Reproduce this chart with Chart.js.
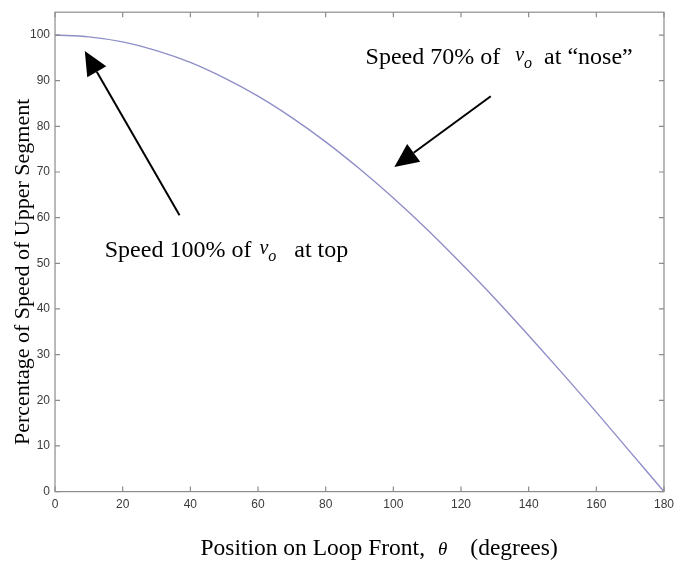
<!DOCTYPE html>
<html lang="en">
<head>
    <meta charset="UTF-8">
    <title>Speed around loop</title>
    <style>
        body { margin: 0; background: #fff; }
        .chartBox { width: 680px; height: 564px; }
    </style>
</head>
<body>
<div class="chartBox">
    <canvas id="myChart"></canvas>
</div>
<script src="https://cdn.jsdelivr.net/npm/chart.js"></script>
<script>
    // data
    const theta = [0, 10, 20, 30, 40, 50, 60, 70, 80, 90, 100, 110, 120, 130, 140, 150, 160, 170, 180];
    const speedPct = [100, 99.6, 98.5, 96.6, 94, 90.6, 86.6, 81.9, 76.6, 70.7, 64.3, 57.4, 50, 42.3, 34.2, 25.9, 17.4, 8.7, 0];

    const xTitle = 'Position on Loop Front,';
    const yTitle = 'Percentage of Speed of Upper Segment';

    // annotations in data units: text anchor, arrow tail -> tip
    const notes = [
        { before: 'Speed 70% of', gap1: 15, after: 'at \u201cnose\u201d', gap2: 12, tx: 91.8, ty: 93.7, from: [128.8, 86.6], to: [100.3, 71.1] },
        { before: 'Speed 100% of', gap1: 8, after: 'at top', gap2: 18, tx: 14.7, ty: 51.4, from: [36.8, 60.5], to: [8.8, 96.5] }
    ];

    const serif = '"Liberation Serif", "Times New Roman", serif';

    function arrow(ctx, x1, y1, x2, y2) {
        const a = Math.atan2(y2 - y1, x2 - x1);
        const len = 24, half = 11;
        const bx = x2 - len * Math.cos(a), by = y2 - len * Math.sin(a);
        ctx.beginPath();
        ctx.moveTo(x1, y1);
        ctx.lineTo(bx, by);
        ctx.lineWidth = 2;
        ctx.strokeStyle = '#000';
        ctx.stroke();
        ctx.beginPath();
        ctx.moveTo(x2, y2);
        ctx.lineTo(bx + half * Math.sin(a), by - half * Math.cos(a));
        ctx.lineTo(bx - half * Math.sin(a), by + half * Math.cos(a));
        ctx.closePath();
        ctx.fillStyle = '#000';
        ctx.fill();
    }

    // draw "before v_o after" with italic v and subscript o
    function noteText(ctx, x, y, n) {
        ctx.textBaseline = 'alphabetic';
        ctx.textAlign = 'left';
        ctx.fillStyle = '#000';
        ctx.font = '24px ' + serif;
        ctx.fillText(n.before, x, y);
        x += ctx.measureText(n.before).width + n.gap1;
        ctx.font = 'italic 20px ' + serif;
        ctx.fillText('v', x, y - 3);
        x += ctx.measureText('v').width;
        ctx.font = 'italic 16px ' + serif;
        ctx.fillText('o', x, y + 4);
        x += ctx.measureText('o').width + n.gap2;
        ctx.font = '24px ' + serif;
        ctx.fillText(n.after, x, y);
    }

    const decor = {
        id: 'decor',
        afterDraw(chart) {
            const ctx = chart.ctx;
            const xs = chart.scales.x, ys = chart.scales.y;
            const a = chart.chartArea;
            ctx.save();
            // box
            ctx.strokeStyle = '#8c8c8c';
            ctx.lineWidth = 1.2;
            ctx.strokeRect(a.left, a.top, a.right - a.left, a.bottom - a.top);
            // inward ticks on all sides
            ctx.beginPath();
            xs.ticks.forEach(t => {
                const p = xs.getPixelForValue(t.value);
                ctx.moveTo(p, a.bottom); ctx.lineTo(p, a.bottom - 5);
                ctx.moveTo(p, a.top); ctx.lineTo(p, a.top + 5);
            });
            ys.ticks.forEach(t => {
                const p = ys.getPixelForValue(t.value);
                ctx.moveTo(a.left, p); ctx.lineTo(a.left + 5, p);
                ctx.moveTo(a.right, p); ctx.lineTo(a.right - 5, p);
            });
            ctx.stroke();

            // axis titles
            ctx.fillStyle = '#000';
            ctx.textBaseline = 'alphabetic';
            ctx.font = '23.5px ' + serif;
            ctx.textAlign = 'right';
            ctx.fillText(xTitle, 425, 555);
            ctx.textAlign = 'left';
            ctx.font = 'italic 19px ' + serif;
            ctx.fillText('\u03b8', 438, 555);
            const tw = ctx.measureText('\u03b8').width;
            ctx.font = '23.5px ' + serif;
            ctx.fillText('(degrees)', 438 + tw + 23, 555);

            ctx.save();
            ctx.translate(29, (a.top + a.bottom) / 2 + 20);
            ctx.rotate(-Math.PI / 2);
            ctx.textAlign = 'center';
            ctx.font = '22px ' + serif;
            ctx.fillText(yTitle, 0, 0);
            ctx.restore();

            // annotations
            notes.forEach(n => {
                noteText(ctx, xs.getPixelForValue(n.tx), ys.getPixelForValue(n.ty), n);
                arrow(ctx, xs.getPixelForValue(n.from[0]), ys.getPixelForValue(n.from[1]),
                    xs.getPixelForValue(n.to[0]), ys.getPixelForValue(n.to[1]));
            });
            ctx.restore();
        }
    };

    const data = {
        datasets: [{
            data: theta.map((t, i) => ({ x: t, y: speedPct[i] })),
            borderColor: '#8e8ec8',
            borderWidth: 1.4,
            pointRadius: 0,
            cubicInterpolationMode: 'monotone',
            fill: false
        }]
    };

    const tickFont = { family: '"Liberation Sans", Arial, sans-serif', size: 12 };

    const config = {
        type: 'line',
        data: data,
        options: {
            responsive: true,
            maintainAspectRatio: false,
            animation: false,
            layout: { autoPadding: false, padding: { left: 25, right: 12, top: 4, bottom: 46 } },
            plugins: { legend: { display: false }, tooltip: { enabled: false } },
            scales: {
                x: {
                    type: 'linear',
                    min: 0, max: 180,
                    border: { display: false },
                    grid: { display: false, drawTicks: false },
                    ticks: { stepSize: 20, color: '#3a3a3a', font: tickFont, padding: 6, maxRotation: 0 }
                },
                y: {
                    min: 0, max: 105,
                    border: { display: false },
                    grid: { display: false, drawTicks: false },
                    afterBuildTicks: s => { s.ticks = s.ticks.filter(t => t.value <= 100); },
                    ticks: { stepSize: 10, color: '#3a3a3a', font: tickFont, padding: 5 }
                }
            }
        },
        plugins: [decor]
    };

    const myChart = new Chart(document.getElementById('myChart'), config);
</script>
</body>
</html>
